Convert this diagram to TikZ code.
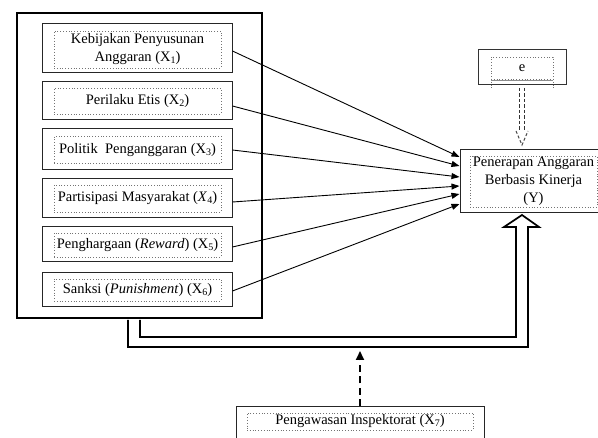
\documentclass[tikz,border=0pt]{standalone}
\usepackage{fontspec}
\setmainfont{Liberation Serif}
\usetikzlibrary{arrows.meta,calc}
\newcommand{\subx}[1]{\raisebox{-0.25ex}{\fontsize{10}{10}\selectfont #1}}
\begin{document}
\begin{tikzpicture}[x=1pt,y=-1pt,
  font=\fontsize{14.5}{18}\selectfont,
  varbox/.style={draw=black!85, line width=1pt, inner sep=0pt, minimum width=190pt},
  dotbox/.style={draw=black!55, dotted, line width=0.8pt, inner sep=0pt, align=center},
  arr/.style={line width=0.9pt, -{Triangle[length=8pt,width=6pt]}}]
\useasboundingbox (0,0) rectangle (598,438);
\fill[white] (0,0) rectangle (598,438);

% outer group box
\node[draw=black, line width=2.2pt, minimum width=245pt, minimum height=305pt, inner sep=0pt] (outer) at (139.5,165.5) {};

% variable boxes
\node[varbox, minimum height=49pt] (b1) at (137,48.5) {};
\node[dotbox, minimum width=167pt, minimum height=37pt] (d1) at (137.5,49.5) {Kebijakan Penyusunan\\Anggaran (X\subx{1})};
\node[varbox, minimum height=38pt] (b2) at (137,101) {};
\node[dotbox, minimum width=167pt, minimum height=26pt] (d2) at (137.5,101) {Perilaku Etis (X\subx{2})};
\node[varbox, minimum height=41pt] (b3) at (137,149.5) {};
\node[dotbox, minimum width=167pt, minimum height=27pt, anchor=north] (d3) at (137.5,136) {Politik\ \ Penganggaran (X\subx{3})};
\node[varbox, minimum height=39pt] (b4) at (137,198.5) {};
\node[dotbox, minimum width=167pt, minimum height=27pt] (d4) at (137.5,198.5) {Partisipasi Masyarakat (\textit{X}\subx{4})};
\node[varbox, minimum height=35pt] (b5) at (137,244.5) {};
\node[dotbox, minimum width=167pt, minimum height=24pt] (d5) at (137.5,245) {Penghargaan (\textit{Reward}) (X\subx{5})};
\node[varbox, minimum height=34pt] (b6) at (137,290) {};
\node[dotbox, minimum width=167pt, minimum height=22pt] (d6) at (137.5,290) {Sanksi (\textit{Punishment}) (X\subx{6})};

% dependent variable
\node[draw=black!85, line width=1pt, minimum width=142pt, minimum height=63pt, inner sep=0pt] (Y) at (531,181.5) {};
\node[dotbox, minimum width=127pt, minimum height=51pt] (dY) at (533.5,181.5) {Penerapan Anggaran\\Berbasis Kinerja\\(Y)};

% error term
\node[draw=black!80, line width=1pt, minimum width=88pt, minimum height=35pt, inner sep=0pt] (e) at (522,67.5) {};
\node[dotbox, minimum width=62pt, minimum height=22pt] (de) at (522,68) {e};
\draw[black!45, line width=0.8pt] (491,80) -- (553,80);
\draw[black!55, dotted, line width=0.8pt] (491,79) -- (491,88) (553,79) -- (553,88);

% moderator
\node[draw=black!85, line width=1pt, minimum width=248pt, minimum height=38pt, inner sep=0pt] (X7) at (360,426) {};
\node[dotbox, minimum width=226pt, minimum height=17pt] (d7) at (360,421.5) {Pengawasan Inspektorat (X\subx{7})};

% direct effects
\draw[arr] ($(b1.east)+(0,2.5)$) -- ($(Y.west)+(0,-24.5)$);
\draw[arr] ($(b2.east)+(0,5)$) -- ($(Y.west)+(0,-15.5)$);
\draw[arr] ($(b3.east)+(0,0.5)$) -- ($(Y.west)+(0,-4.5)$);
\draw[arr] ($(b4.east)+(0,3.5)$) -- ($(Y.west)+(0,4.5)$);
\draw[arr] ($(b5.east)+(0,2.5)$) -- ($(Y.west)+(0,12.5)$);
\draw[arr] ($(b6.east)+(0,1)$) -- ($(Y.west)+(0,22.5)$);

% hollow block arrow from group to Y
\draw[line width=1.7pt, line join=miter]
  (128,320) -- (128,347) -- (528,347) -- (528,227) -- (539,227) -- (522,215)
  -- (504,227) -- (516,227) -- (516,337) -- (140,337) -- (140,320);

% dashed double arrow from e to Y
\draw[black!80, line width=1.3pt, dash pattern=on 3.5pt off 2pt] (519.5,88) -- (519.5,131);
\draw[black!80, line width=1.3pt, dash pattern=on 3.5pt off 2pt] (524.5,88) -- (524.5,131);
\draw[black!70, line width=1pt, dash pattern=on 3pt off 2pt] (516,131) -- (522,145) -- (528,131);

% moderating effect
\coordinate (mod) at (360,351);
\draw[line width=2pt, dash pattern=on 7pt off 4.5pt, -{Triangle[length=9pt,width=8pt]}] (X7.north) -- (mod);
\end{tikzpicture}
\end{document}
